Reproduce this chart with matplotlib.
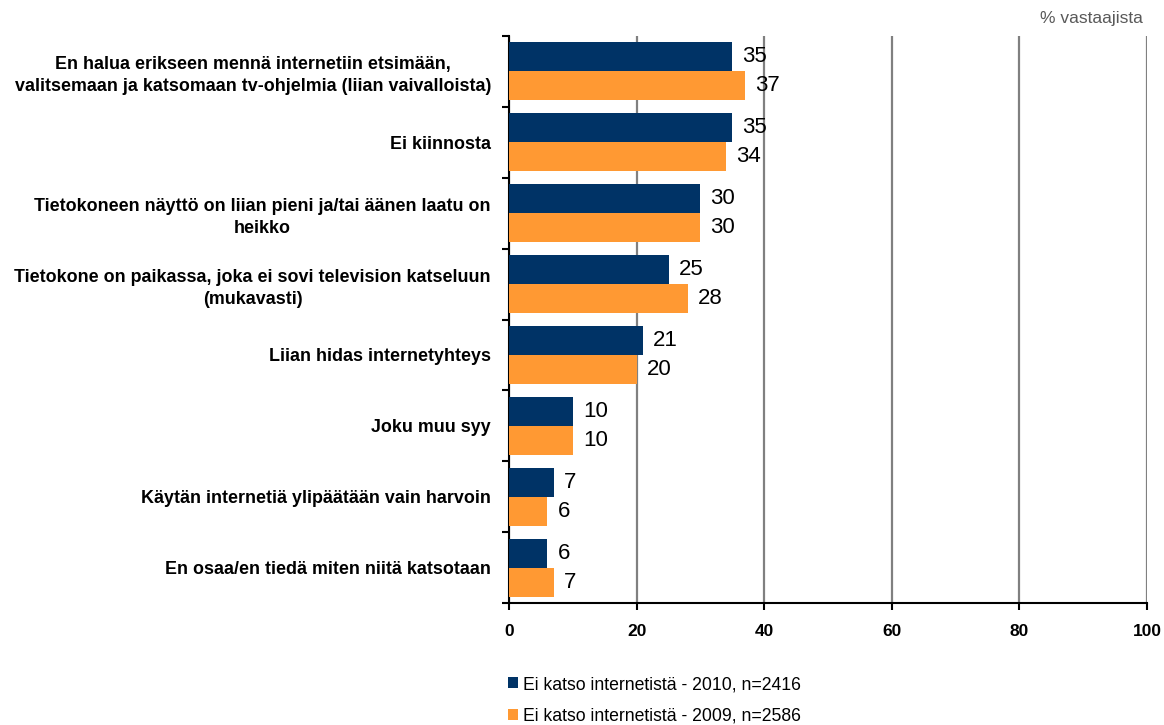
import numpy as np
import matplotlib
matplotlib.use("Agg")
import matplotlib.pyplot as plt

plt.rcParams['font.family'] = ['Liberation Sans', 'DejaVu Sans']

# vastaukset
syyt = [
    "En halua erikseen mennä internetiin etsimään,\nvalitsemaan ja katsomaan tv-ohjelmia (liian vaivalloista)",
    "Ei kiinnosta",
    "Tietokoneen näyttö on liian pieni ja/tai äänen laatu on\nheikko",
    "Tietokone on paikassa, joka ei sovi television katseluun\n(mukavasti)",
    "Liian hidas internetyhteys",
    "Joku muu syy",
    "Käytän internetiä ylipäätään vain harvoin",
    "En osaa/en tiedä miten niitä katsotaan",
]
v2010 = [35, 35, 30, 25, 21, 10, 7, 6]
v2009 = [37, 34, 30, 28, 20, 10, 6, 7]
sarjat = ["Ei katso internetistä - 2010, n=2416", "Ei katso internetistä - 2009, n=2586"]
xticks = [0, 20, 40, 60, 80, 100]

sininen = "#003366"
oranssi = "#FF9933"

fig = plt.figure(figsize=(11.64, 7.25), dpi=100)
ax = fig.add_axes([509/1164, 1-603/725, 638/1164, 567/725])

y = np.arange(len(syyt))
h = 0.41
b1 = ax.barh(y - h/2, v2010, height=h, color=sininen, label=sarjat[0], zorder=3)
b2 = ax.barh(y + h/2, v2009, height=h, color=oranssi, label=sarjat[1], zorder=3)

for i in range(len(syyt)):
    ax.text(v2010[i] + 1.6, y[i] - h/2, str(v2010[i]), va='center', ha='left', fontsize=16)
    ax.text(v2009[i] + 1.6, y[i] + h/2, str(v2009[i]), va='center', ha='left', fontsize=16)

ax.set_xlim(0, 100)
ax.set_ylim(len(syyt) - 0.5, -0.5)
ax.set_xticks(xticks)
ax.set_xticklabels([str(t) for t in xticks], fontsize=12.5, fontweight='bold')
ax.set_yticks(y)
ax.set_yticklabels(syyt, fontsize=12.9, fontweight='bold', multialignment='center',
                   linespacing=1.35)
ax.set_yticks(np.arange(len(syyt) + 1) - 0.5, minor=True)
ax.tick_params(axis='y', which='major', length=0, pad=13)
ax.tick_params(axis='y', which='minor', length=5, width=1.5, direction='out')
ax.tick_params(axis='x', length=5, width=1.5, direction='out', pad=10)

ax.grid(axis='x', color='#808080', linewidth=1.6, zorder=0)
ax.spines['top'].set_visible(False)
ax.spines['right'].set_visible(False)
ax.spines['left'].set_linewidth(1.5)
ax.spines['bottom'].set_linewidth(1.5)

fig.text(1143/1164, 1-18/725, "% vastaajista", ha='right', va='center', fontsize=12.5, color='#595959')

fig.legend(handles=[b1, b2], loc='upper left', bbox_to_anchor=(508/1164, 1-676/725),
           frameon=False, fontsize=12.7, handlelength=0.55, handleheight=0.55,
           handletextpad=0.3, labelspacing=0.85, borderpad=0, borderaxespad=0)

fig.savefig("out.png", dpi=100)
